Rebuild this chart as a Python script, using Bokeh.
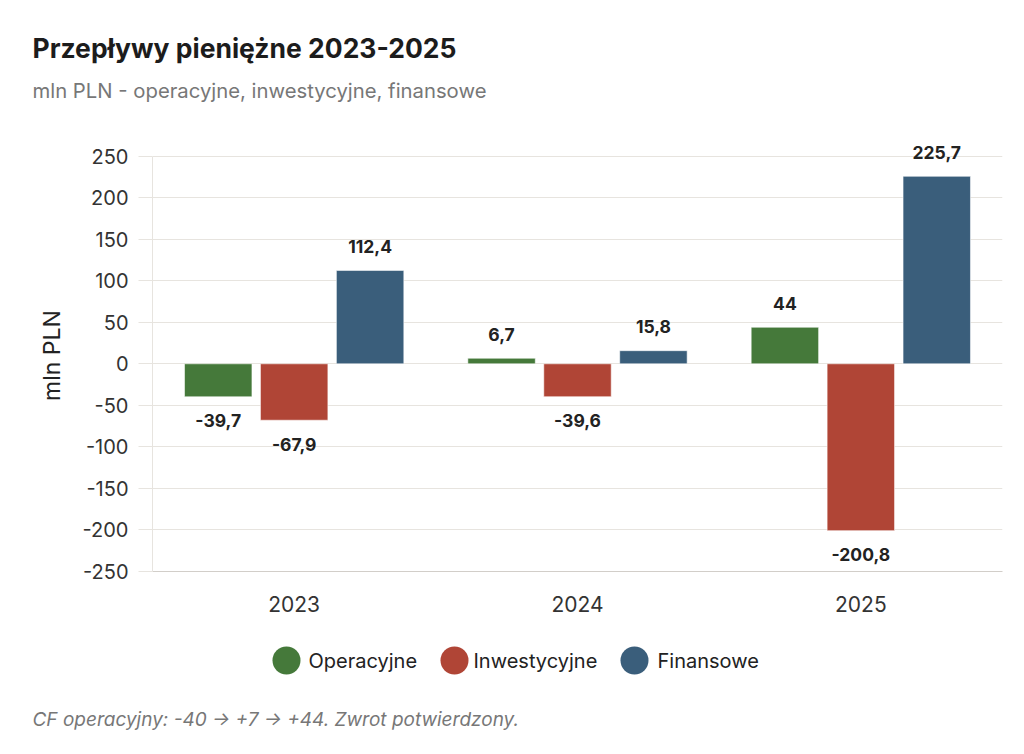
from bokeh.plotting import figure
from bokeh.models import ColumnDataSource, FactorRange, Range1d, FixedTicker, LabelSet
from bokeh.transform import dodge
from bokeh.layouts import column, row
from bokeh.core.properties import value
from bokeh.embed import file_html
from bokeh.resources import INLINE

# ---------------- data ----------------
years = ["2023", "2024", "2025"]
series_names = ["Operacyjne", "Inwestycyjne", "Finansowe"]
operacyjne = [-39.7, 6.7, 44.0]
inwestycyjne = [-67.9, -39.6, -200.8]
finansowe = [112.4, 15.8, 225.7]
y_ticks = [-250, -200, -150, -100, -50, 0, 50, 100, 150, 200, 250]
title_text = "Przepływy pieniężne 2023-2025"
subtitle_text = "mln PLN - operacyjne, inwestycyjne, finansowe"
y_label = "mln PLN"
footer_text = "CF operacyjny: -40 → +7 → +44. Zwrot potwierdzony."

# ---------------- styles ----------------
FONT = "Inter"
colors = ["#45793A", "#B04536", "#3A5E7B"]
offsets = [-0.268, 0.0, 0.268]
BAR_W = 0.238
GRID = "#e7e4df"
W = 1008
BL, BR = 152, 6
HEAD_H, MAIN_H, FOOT_H = 122, 516, 108
Y_MIN, Y_MAX, Y_VIEW_MAX = -250, 250, 270


def fmt(v):
    s = f"{v:.1f}"
    if s.endswith(".0"):
        s = s[:-2]
    return s.replace(".", ",")


def blank_fig(h, y0):
    # data units == page pixels
    f = figure(width=W, height=h, x_range=Range1d(0, W), y_range=Range1d(y0 + h, y0),
               x_axis_type=None, y_axis_type=None, output_backend="svg", title=None,
               toolbar_location=None, min_border=0, min_border_left=0, min_border_right=0,
               min_border_top=0, min_border_bottom=0, outline_line_color=None)
    f.xgrid.visible = False
    f.ygrid.visible = False
    return f


# ---------------- header ----------------
head = blank_fig(HEAD_H, 0)
head.text(x=[32], y=[47], text=[title_text], text_font=value(FONT), text_font_size="26.5px",
          text_font_style="bold", text_color="#1c1c1c", text_baseline="middle", text_align="left")
head.text(x=[32], y=[90], text=[subtitle_text], text_font=value(FONT), text_font_size="20.3px",
          text_color="#777777", text_baseline="middle", text_align="left")

# ---------------- main chart ----------------
p = figure(width=W, height=MAIN_H, title=None,
           x_range=FactorRange(*years), y_range=Range1d(Y_MIN, Y_VIEW_MAX),
           output_backend="svg", toolbar_location=None,
           min_border_left=BL, min_border_right=BR, min_border_top=17, min_border_bottom=67,
           outline_line_color=None)

all_series = [operacyjne, inwestycyjne, finansowe]
for name, vals, col, off in zip(series_names, all_series, colors, offsets):
    src = ColumnDataSource(dict(
        year=years, val=vals, lab=[fmt(v) for v in vals],
        yoff=[24 if v >= 0 else -24 for v in vals]))
    p.vbar(x=dodge("year", off, range=p.x_range), top="val", bottom=0, width=BAR_W,
           source=src, fill_color=col, line_color="white", line_alpha=0.55, line_width=1)
    p.add_layout(LabelSet(x=dodge("year", off, range=p.x_range), y="val", text="lab",
                          y_offset="yoff", source=src, text_font=value(FONT),
                          text_font_size="17.5px", text_font_style="bold",
                          text_color="#222222", text_align="center", text_baseline="middle"))

p.xgrid.grid_line_color = None
p.ygrid.ticker = FixedTicker(ticks=y_ticks)
p.ygrid.grid_line_color = GRID
p.ygrid.grid_line_width = 1

ya = p.yaxis[0]
ya.ticker = FixedTicker(ticks=y_ticks)
ya.major_label_overrides = {t: str(t) for t in y_ticks}
ya.bounds = (Y_MIN, Y_MAX)
ya.axis_line_color = GRID
ya.major_tick_line_color = GRID
ya.major_tick_out = 14
ya.major_tick_in = 0
ya.minor_tick_line_color = None
ya.major_label_standoff = 10
ya.major_label_text_font = FONT
ya.major_label_text_font_size = "20px"
ya.major_label_text_color = "#333333"
ya.axis_label = y_label
ya.axis_label_text_font = FONT
ya.axis_label_text_font_size = "23px"
ya.axis_label_text_font_style = "normal"
ya.axis_label_text_color = "#222222"
ya.axis_label_standoff = 14

xa = p.xaxis[0]
xa.axis_line_color = "#d2cec9"
xa.major_tick_line_color = None
xa.major_tick_out = 0
xa.major_tick_in = 0
xa.major_label_standoff = 24
xa.major_label_text_font = FONT
xa.major_label_text_font_size = "21px"
xa.major_label_text_color = "#333333"

# ---------------- legend + footer ----------------
y_foot0 = HEAD_H + MAIN_H
foot = blank_fig(FOOT_H, y_foot0)
leg_cx = [286, 454, 634]
leg_tx = [308, 473, 657]
leg_y = [660, 660, 660]
foot.scatter(x=leg_cx, y=leg_y, size=28, marker="circle", fill_color=colors, line_color=None)
foot.text(x=leg_tx, y=leg_y, text=series_names, text_font=value(FONT), text_font_size="20px",
          text_color="#222222", text_baseline="middle", text_align="left")
foot.text(x=[32], y=[719], text=[footer_text], text_font=value(FONT), text_font_size="19px",
          text_font_style="italic", text_color="#777777", text_baseline="middle",
          text_align="left")

layout = column(row(head), p, row(foot), spacing=0)
open("out.html", "w").write(file_html(layout, INLINE))
